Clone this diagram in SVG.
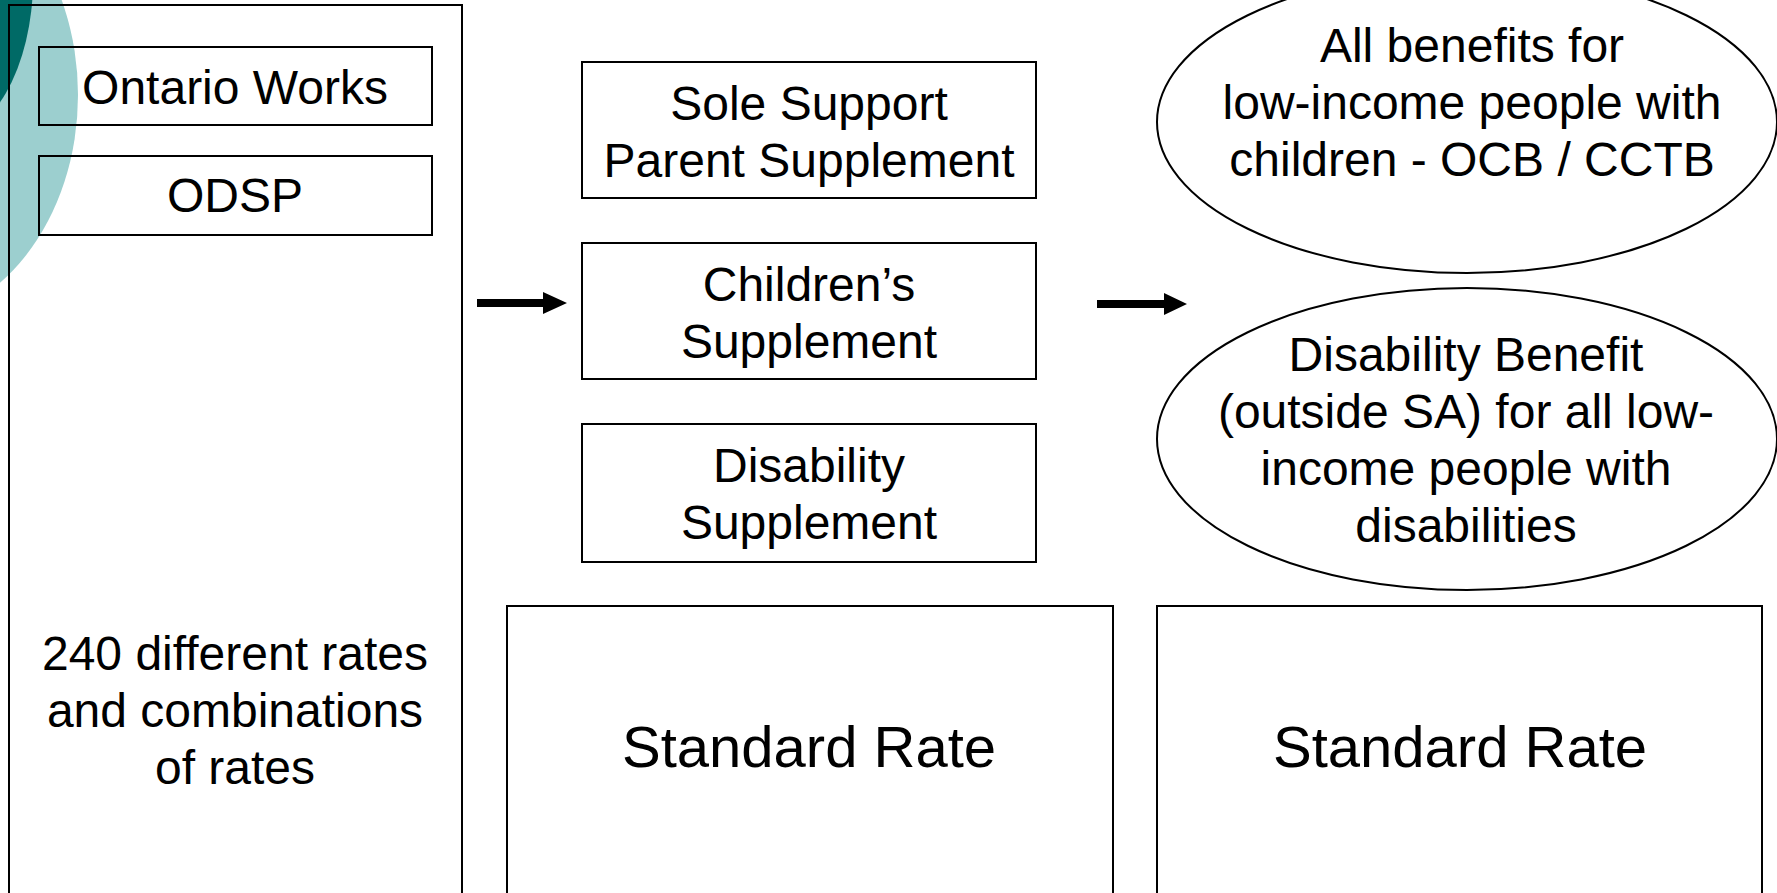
<svg xmlns="http://www.w3.org/2000/svg" width="1777" height="893" viewBox="0 0 1777 893">
<style>
.box{fill:none;stroke:#000;stroke-width:2}
.ell{fill:none;stroke:#000;stroke-width:2}
.t{font-family:"Liberation Sans",Arial,sans-serif;font-size:48px;fill:#000;text-anchor:middle}
.big{font-size:58px}
.arr{fill:#000;stroke:none}
</style>
<rect x="0" y="0" width="1777" height="893" fill="#fff"/>
<g id="decor">
<ellipse cx="-100" cy="95" rx="178" ry="227" fill="#9ccfcf"/>
<ellipse cx="-60" cy="-20" rx="93" ry="160" fill="#006a66"/>
</g>
<g id="programs">
<rect class="box" x="9" y="5" width="453" height="900"/>
<text class="t" x="235" y="670">240 different rates</text>
<text class="t" x="235" y="727">and combinations</text>
<text class="t" x="235" y="784">of rates</text>
</g>
<g id="ontario-works">
<rect class="box" x="39" y="47" width="393" height="78"/>
<text class="t" x="235" y="104">Ontario Works</text>
</g>
<g id="odsp">
<rect class="box" x="39" y="156" width="393" height="79"/>
<text class="t" x="235" y="212">ODSP</text>
</g>
<g id="sole-support">
<rect class="box" x="582" y="62" width="454" height="136"/>
<text class="t" x="809" y="120">Sole Support</text>
<text class="t" x="809" y="177">Parent Supplement</text>
</g>
<g id="childrens-supplement">
<rect class="box" x="582" y="243" width="454" height="136"/>
<text class="t" x="809" y="301">Children’s</text>
<text class="t" x="809" y="358">Supplement</text>
</g>
<g id="disability-supplement">
<rect class="box" x="582" y="424" width="454" height="138"/>
<text class="t" x="809" y="482">Disability</text>
<text class="t" x="809" y="539">Supplement</text>
</g>
<g id="standard-rate-1">
<rect class="box" x="507" y="606" width="606" height="300"/>
<text class="t big" x="809" y="767">Standard Rate</text>
</g>
<g id="all-benefits">
<ellipse class="ell" cx="1467" cy="122" rx="310" ry="151"/>
<text class="t" x="1472" y="62">All benefits for</text>
<text class="t" x="1472" y="119">low-income people with</text>
<text class="t" x="1472" y="176">children - OCB / CCTB</text>
</g>
<g id="disability-benefit">
<ellipse class="ell" cx="1467" cy="439" rx="310" ry="151"/>
<text class="t" x="1466" y="371">Disability Benefit</text>
<text class="t" x="1466" y="428">(outside SA) for all low-</text>
<text class="t" x="1466" y="485">income people with</text>
<text class="t" x="1466" y="542">disabilities</text>
</g>
<g id="standard-rate-2">
<rect class="box" x="1157" y="606" width="605" height="300"/>
<text class="t big" x="1460" y="767">Standard Rate</text>
</g>
<g id="connectors">
<polygon class="arr" points="477,299 543,299 543,292 567,303 543,314 543,307 477,307"/>
<polygon class="arr" points="1097,300 1164,300 1164,293 1187,304 1164,315 1164,308 1097,308"/>
</g>
</svg>
